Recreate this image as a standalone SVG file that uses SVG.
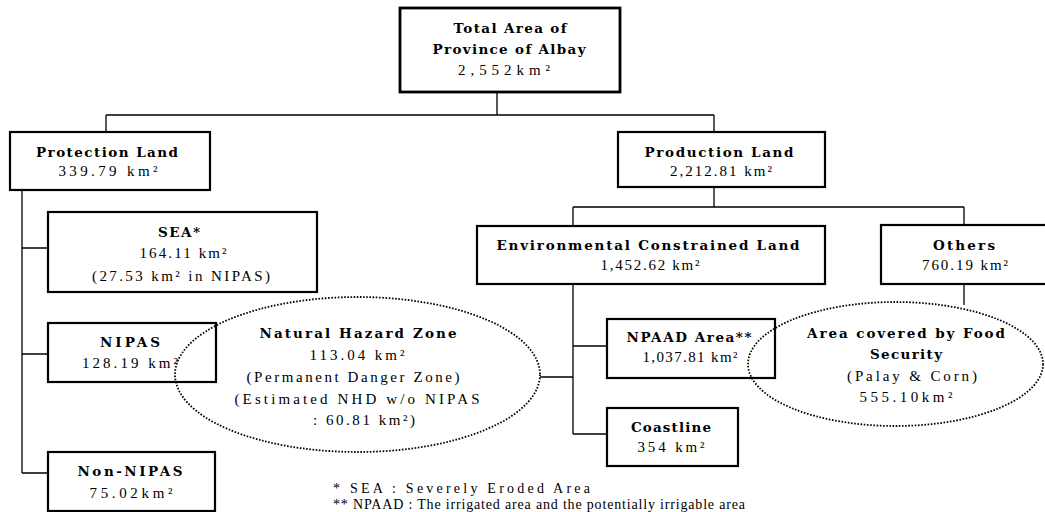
<svg xmlns="http://www.w3.org/2000/svg" width="1045" height="512" viewBox="0 0 1045 512">
<style>
.box{fill:#fff;stroke:#000;stroke-width:2.2}
.ell{fill:none;stroke:#000;stroke-width:1.8;stroke-dasharray:1.6 1.6}
.con{fill:none;stroke:#000;stroke-width:1.3}
.t{font-family:"DejaVu Serif","Liberation Serif",serif;font-weight:bold;font-size:13.5px;text-anchor:middle;fill:#000}
.v{font-family:"Liberation Serif","Times New Roman",serif;font-size:15px;text-anchor:middle;fill:#000}
.n{font-family:"Liberation Serif","Times New Roman",serif;font-size:14px;fill:#000}
</style>
<rect width="1045" height="512" fill="#fff"/>
<g id="connectors">
<path class="con" d="M497,92V115M106,115H714M106,115V132M714,115V132"/>
<path class="con" d="M22,190V473M22,248H48M22,354H48M22,473H48"/>
<path class="con" d="M714,187V207M573,207H964M573,207V226M964,207V225"/>
<path class="con" d="M573,284V434M573,346H607M573,434H607M540,377H573"/>
<path class="con" d="M964,284V305"/>
</g>
<g id="total">
<rect class="box" x="400" y="8" width="220" height="84" style="stroke-width:2.8"/>
<text class="t" x="510" y="33" textLength="113" lengthAdjust="spacing">Total Area of</text>
<text class="t" x="509" y="54" textLength="153" lengthAdjust="spacing">Province of Albay</text>
<text class="v" x="504" y="75" textLength="92" lengthAdjust="spacing">2,552km²</text>
</g>
<g id="protection">
<rect class="box" x="10" y="132" width="200" height="58"/>
<text class="t" x="107" y="157" textLength="142" lengthAdjust="spacing">Protection Land</text>
<text class="v" x="108" y="176" textLength="99" lengthAdjust="spacing">339.79 km²</text>
</g>
<g id="sea">
<rect class="box" x="48" y="212" width="269" height="80"/>
<text class="t" x="179" y="237" textLength="42" lengthAdjust="spacing">SEA*</text>
<text class="v" x="183" y="258" textLength="87" lengthAdjust="spacing">164.11 km²</text>
<text class="v" x="181" y="281" textLength="178" lengthAdjust="spacing">(27.53 km² in NIPAS)</text>
</g>
<g id="nipas">
<rect class="box" x="48" y="323" width="168" height="59"/>
<text class="t" x="130" y="347" textLength="60" lengthAdjust="spacing">NIPAS</text>
<text class="v" x="130" y="368" textLength="96" lengthAdjust="spacing">128.19 km²</text>
</g>
<g id="nonnipas">
<rect class="box" x="48" y="452" width="167" height="59"/>
<text class="t" x="130" y="476" textLength="105" lengthAdjust="spacing">Non-NIPAS</text>
<text class="v" x="131" y="498" textLength="83" lengthAdjust="spacing">75.02km²</text>
</g>
<g id="hazard">
<ellipse class="ell" cx="357.5" cy="374.5" rx="182.5" ry="77.5"/>
<text class="t" x="358" y="338" textLength="197" lengthAdjust="spacing">Natural Hazard Zone</text>
<text class="v" x="357" y="360" textLength="95" lengthAdjust="spacing">113.04 km²</text>
<text class="v" x="353" y="382" textLength="213" lengthAdjust="spacing">(Permanent Danger Zone)</text>
<text class="v" x="357" y="404" textLength="245" lengthAdjust="spacing">(Estimated NHD w/o NIPAS</text>
<text class="v" x="364" y="425" textLength="102" lengthAdjust="spacing">: 60.81 km²)</text>
</g>
<g id="production">
<rect class="box" x="618" y="132" width="207" height="55"/>
<text class="t" x="719" y="157" textLength="149" lengthAdjust="spacing">Production Land</text>
<text class="v" x="721" y="176" textLength="102" lengthAdjust="spacing">2,212.81 km²</text>
</g>
<g id="envconstrained">
<rect class="box" x="477" y="226" width="348" height="58"/>
<text class="t" x="648" y="250" textLength="303" lengthAdjust="spacing">Environmental Constrained Land</text>
<text class="v" x="650" y="270" textLength="99" lengthAdjust="spacing">1,452.62 km²</text>
</g>
<g id="others">
<rect class="box" x="881" y="225" width="170" height="59"/>
<text class="t" x="964" y="250" textLength="62" lengthAdjust="spacing">Others</text>
<text class="v" x="965" y="270" textLength="86" lengthAdjust="spacing">760.19 km²</text>
</g>
<g id="npaad">
<rect class="box" x="607" y="319" width="168" height="59"/>
<text class="t" x="689" y="342" textLength="125" lengthAdjust="spacing">NPAAD Area**</text>
<text class="v" x="690" y="362" textLength="95" lengthAdjust="spacing">1,037.81 km²</text>
</g>
<g id="coastline">
<rect class="box" x="607" y="408" width="131" height="58"/>
<text class="t" x="671" y="432" textLength="80" lengthAdjust="spacing">Coastline</text>
<text class="v" x="671" y="452" textLength="67" lengthAdjust="spacing">354 km²</text>
</g>
<g id="foodsecurity">
<ellipse class="ell" cx="895.5" cy="364" rx="147.5" ry="62"/>
<text class="t" x="906" y="338" textLength="198" lengthAdjust="spacing">Area covered by Food</text>
<text class="t" x="906" y="359" textLength="72" lengthAdjust="spacing">Security</text>
<text class="v" x="912" y="381" textLength="130" lengthAdjust="spacing">(Palay &amp; Corn)</text>
<text class="v" x="906" y="402" textLength="93" lengthAdjust="spacing">555.10km²</text>
</g>
<g id="notes">
<text class="n" x="333" y="493" textLength="257" lengthAdjust="spacing">* SEA : Severely Eroded Area</text>
<text class="n" x="333" y="509" textLength="412" lengthAdjust="spacing">** NPAAD : The irrigated area and the potentially irrigable area</text>
</g>
</svg>
